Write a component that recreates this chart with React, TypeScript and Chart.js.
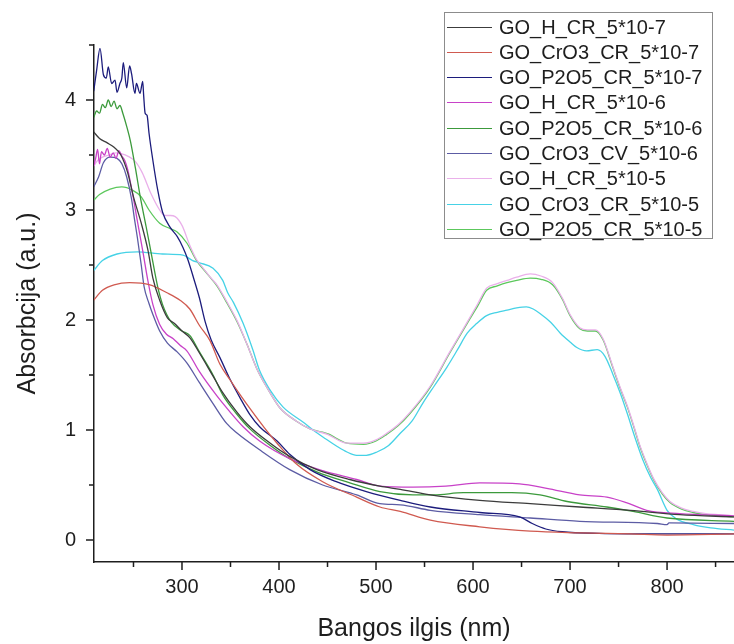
import React, { useEffect, useRef } from 'react';
import { Chart, registerables } from 'chart.js';

Chart.register(...registerables);

type Pt = [number, number];

// ---- series labels and colours ----
const seriesLabels = [
  'GO_H_CR_5*10-7',
  'GO_CrO3_CR_5*10-7',
  'GO_P2O5_CR_5*10-7',
  'GO_H_CR_5*10-6',
  'GO_P2O5_CR_5*10-6',
  'GO_CrO3_CV_5*10-6',
  'GO_H_CR_5*10-5',
  'GO_CrO3_CR_5*10-5',
  'GO_P2O5_CR_5*10-5',
];
const seriesColors = [
  '#3c3c3c',
  '#d05a50',
  '#1c1c7c',
  '#c842c8',
  '#3c9a3c',
  '#5c5ca4',
  '#eab0ea',
  '#46d2e6',
  '#5cc85c',
];

// ---- data: [wavelength nm, absorbance a.u.] ----
const goHCr7: Pt[] = [
  [209, 3.71], [215, 3.65], [223, 3.61], [230, 3.57], [237, 3.5], [244, 3.34], [250, 3.12],
  [258, 2.88], [265, 2.63], [270, 2.38], [277, 2.18], [285, 2.02], [292, 1.97], [300, 1.9],
  [308, 1.84], [318, 1.7], [332, 1.49], [342, 1.34], [356, 1.17], [370, 1.03], [391, 0.88],
  [411, 0.76], [439, 0.64], [473, 0.55], [504, 0.49], [525, 0.46], [556, 0.41], [607, 0.36],
  [659, 0.33], [710, 0.3], [762, 0.27], [813, 0.23], [869, 0.21],
];
const goCrO3Cr7: Pt[] = [
  [209, 2.18], [218, 2.27], [230, 2.32], [246, 2.34], [267, 2.32], [284, 2.25], [298, 2.18],
  [308, 2.1], [318, 1.95], [329, 1.81], [339, 1.6], [350, 1.45], [360, 1.32], [373, 1.16],
  [385, 1.02], [398, 0.88], [418, 0.69], [445, 0.53], [480, 0.39], [504, 0.3], [525, 0.26],
  [556, 0.18], [607, 0.12], [659, 0.08], [710, 0.065], [762, 0.055], [800, 0.045], [869, 0.055],
];
const goP2O5Cr7: Pt[] = [
  [209, 4.08], [212, 4.27], [215.5, 4.47], [219, 4.23], [222, 4.2], [224, 4.3], [227.5, 4.15],
  [231, 4.18], [233, 4.07], [236, 4.15], [238, 4.2], [239.5, 4.34], [243, 4.11], [246, 4.31],
  [248, 4.24], [251.5, 4.06], [253, 4.15], [256.7, 4.06], [259.5, 4.17], [260.5, 4.04],
  [262, 3.88], [264, 3.86], [266, 3.7], [270, 3.45], [275, 3.18], [280, 2.98], [288, 2.84],
  [295, 2.76], [301, 2.66], [306, 2.55], [312, 2.38], [318, 2.2], [324, 1.98], [330, 1.82],
  [339, 1.66], [349, 1.47], [360, 1.29], [370, 1.14], [380, 1.03], [398, 0.9], [411, 0.78],
  [432, 0.64], [459, 0.53], [490, 0.44], [525, 0.36], [556, 0.3], [607, 0.25], [648, 0.21],
  [661, 0.15], [675, 0.1], [692, 0.075], [730, 0.06], [800, 0.055], [869, 0.055],
];
const goHCr6: Pt[] = [
  [209, 3.4], [211, 3.47], [213, 3.55], [215, 3.42], [217, 3.53], [220, 3.5], [223, 3.56],
  [226, 3.48], [229, 3.52], [232, 3.47], [235, 3.54], [238, 3.49], [241, 3.45], [244, 3.37],
  [249, 3.15], [254, 2.9], [259.5, 2.63], [265, 2.35], [270, 2.14], [277, 1.96], [284, 1.87],
  [291, 1.83], [298, 1.77], [305, 1.72], [318, 1.53], [336, 1.31], [349, 1.17], [363, 1.03],
  [380, 0.9], [411, 0.74], [445, 0.63], [480, 0.55], [504, 0.49], [538, 0.48], [572, 0.49],
  [607, 0.52], [648, 0.51], [676, 0.47], [710, 0.41], [738, 0.39], [758, 0.34], [779, 0.27],
  [813, 0.24], [869, 0.22],
];
const goP2O5Cr6: Pt[] = [
  [209, 3.84], [212, 3.9], [215, 3.88], [218, 3.96], [221, 3.93], [224, 4.0], [227, 3.94],
  [230, 3.99], [233, 3.92], [236, 3.95], [239, 3.88], [243, 3.76], [247, 3.62], [252, 3.38],
  [257, 3.12], [263, 2.85], [268, 2.62], [275, 2.3], [280, 2.14], [289, 1.98], [300, 1.9],
  [308, 1.86], [318, 1.71], [332, 1.5], [342, 1.32], [356, 1.15], [370, 1.01], [391, 0.86],
  [411, 0.74], [439, 0.62], [473, 0.52], [504, 0.44], [538, 0.41], [560, 0.41], [590, 0.43],
  [640, 0.43], [669, 0.41], [697, 0.35], [738, 0.3], [765, 0.26], [800, 0.2], [869, 0.17],
];
const goCrO3Cv6: Pt[] = [
  [209, 3.21], [214, 3.3], [219, 3.43], [226, 3.48], [233, 3.47], [238, 3.42], [243, 3.3],
  [248, 3.1], [251, 2.92], [254, 2.75], [258, 2.5], [261, 2.3], [266, 2.15], [270, 2.05],
  [277, 1.9], [285, 1.79], [295, 1.71], [305, 1.61], [318, 1.43], [332, 1.24], [346, 1.06],
  [357, 0.97], [380, 0.82], [411, 0.64], [445, 0.5], [480, 0.41], [504, 0.33], [525, 0.32],
  [556, 0.27], [607, 0.23], [659, 0.2], [710, 0.17], [790, 0.15], [800, 0.14], [802, 0.155],
  [869, 0.15],
];
const goHCr5: Pt[] = [
  [209, 3.4], [213, 3.45], [218, 3.48], [225, 3.5], [232, 3.52], [238, 3.51], [244, 3.49],
  [252, 3.44], [259, 3.34], [268, 3.15], [277, 3.0], [282, 2.95], [288, 2.95], [293, 2.94],
  [300, 2.86], [308, 2.68], [315, 2.55], [322, 2.47], [330, 2.38], [336, 2.32], [346, 2.17],
  [357, 1.99], [367, 1.78], [377, 1.56], [388, 1.38], [401, 1.2], [418, 1.08], [432, 1.01],
  [450, 0.96], [470, 0.88], [487, 0.88], [500, 0.91], [511, 0.97], [523, 1.05], [535, 1.16],
  [556, 1.4], [576, 1.71], [594, 1.98], [605, 2.15], [614, 2.29], [625, 2.33], [635, 2.36],
  [645, 2.39], [659, 2.42], [670, 2.4], [682, 2.34], [692, 2.2], [700, 2.05], [710, 1.93],
  [718, 1.91], [726, 1.91], [734, 1.83], [744, 1.58], [752, 1.38], [759, 1.22], [766, 1.03],
  [772, 0.86], [779, 0.7], [786, 0.56], [795, 0.43], [803, 0.35], [815, 0.29], [827, 0.26],
  [840, 0.24], [855, 0.23], [869, 0.22],
];
const goCrO3Cr5: Pt[] = [
  [209, 2.45], [218, 2.54], [233, 2.6], [254, 2.62], [280, 2.6], [301, 2.59], [311, 2.54],
  [318, 2.52], [332, 2.47], [342, 2.36], [347, 2.25], [353, 2.16], [363, 1.97], [373, 1.73],
  [380, 1.54], [391, 1.36], [404, 1.21], [425, 1.07], [435, 1.0], [448, 0.92], [460, 0.85],
  [470, 0.8], [480, 0.77], [490, 0.77], [501, 0.8], [513, 0.86], [525, 0.97], [537, 1.08],
  [548, 1.24], [560, 1.4], [573, 1.57], [584, 1.73], [594, 1.88], [604, 1.97], [614, 2.04],
  [625, 2.07], [635, 2.09], [645, 2.11], [655, 2.12], [662, 2.1], [669, 2.06], [680, 1.98],
  [690, 1.88], [700, 1.8], [707, 1.75], [717, 1.72], [728, 1.73], [736, 1.67], [744, 1.51],
  [752, 1.33], [759, 1.15], [767, 0.93], [775, 0.73], [783, 0.57], [790, 0.46], [800, 0.27],
  [810, 0.19], [827, 0.14], [845, 0.11], [869, 0.09],
];
const goP2O5Cr5: Pt[] = [
  [209, 3.09], [215, 3.14], [226, 3.19], [238, 3.21], [249, 3.18], [258, 3.12], [266, 3.0],
  [277, 2.88], [288, 2.83], [295, 2.8], [305, 2.7], [315, 2.54], [326, 2.42], [336, 2.31],
  [346, 2.16], [357, 1.98], [367, 1.78], [377, 1.56], [388, 1.38], [401, 1.2], [418, 1.08],
  [432, 1.01], [445, 0.98], [452, 0.96], [460, 0.92], [470, 0.88], [487, 0.87], [500, 0.9],
  [511, 0.96], [523, 1.04], [535, 1.15], [556, 1.39], [576, 1.7], [594, 1.97], [605, 2.13],
  [614, 2.27], [625, 2.31], [635, 2.34], [645, 2.36], [659, 2.38], [670, 2.37], [682, 2.32],
  [692, 2.19], [700, 2.04], [710, 1.92], [718, 1.9], [726, 1.9], [734, 1.82], [744, 1.57],
  [752, 1.37], [759, 1.21], [766, 1.02], [772, 0.85], [779, 0.69], [786, 0.55], [795, 0.42],
  [803, 0.34], [815, 0.28], [827, 0.25], [840, 0.23], [855, 0.22], [869, 0.21],
];

const seriesData: Pt[][] = [
  goHCr7, goCrO3Cr7, goP2O5Cr7, goHCr6, goP2O5Cr6, goCrO3Cv6, goHCr5, goCrO3Cr5, goP2O5Cr5,
];

// ---- axes ----
const xTickValues = [250, 300, 350, 400, 450, 500, 550, 600, 650, 700, 750, 800, 850];
const xLabelValues = [300, 400, 500, 600, 700, 800];
const yTickValues = [0, 0.5, 1, 1.5, 2, 2.5, 3, 3.5, 4, 4.5];
const yLabelValues = [0, 1, 2, 3, 4];
const X_MIN = 209.3;
const X_MAX = 869;
const Y_MIN = -0.2;
const Y_MAX = 4.5;
const xTitle = 'Bangos ilgis (nm)';
const yTitle = 'Absorbcija (a.u.)';

const FONT = '"Liberation Sans", Arial, sans-serif';
const INK = '#1e1e1e';

const tickMarks = {
  id: 'tickMarks',
  afterDraw(chart: any) {
    const { ctx, chartArea, scales } = chart;
    const xs = scales.x;
    const ys = scales.y;
    ctx.save();
    ctx.strokeStyle = INK;
    ctx.lineWidth = 1.5;
    ctx.beginPath();
    xTickValues.forEach((v) => {
      const px = xs.getPixelForValue(v);
      const len = xLabelValues.includes(v) ? 8 : 5;
      ctx.moveTo(px, chartArea.bottom);
      ctx.lineTo(px, chartArea.bottom + len);
    });
    yTickValues.forEach((v) => {
      const py = ys.getPixelForValue(v);
      const len = yLabelValues.includes(v) ? 8 : 5;
      ctx.moveTo(chartArea.left, py);
      ctx.lineTo(chartArea.left - len, py);
    });
    ctx.stroke();
    ctx.restore();
  },
};

export default function App() {
  const canvasRef = useRef<HTMLCanvasElement | null>(null);

  useEffect(() => {
    if (!canvasRef.current) return;
    Chart.defaults.font.family = FONT;
    Chart.defaults.color = INK;
    const chart = new Chart(canvasRef.current, {
      type: 'line',
      data: {
        datasets: seriesLabels.map((label, i) => ({
          label,
          data: seriesData[i].map(([x, y]) => ({ x, y })),
          borderColor: seriesColors[i],
          backgroundColor: seriesColors[i],
          borderWidth: 1.3,
          pointRadius: 0,
          fill: false,
          cubicInterpolationMode: 'monotone' as const,
        })),
      },
      options: {
        animation: false,
        responsive: false,
        events: [],
        layout: { padding: { top: 45, right: 0, bottom: 0, left: 0 } },
        plugins: {
          legend: { display: false },
          tooltip: { enabled: false },
        },
        scales: {
          x: {
            type: 'linear',
            min: X_MIN,
            max: X_MAX,
            afterBuildTicks: (s: any) => {
              s.ticks = xTickValues.map((value) => ({ value }));
            },
            afterFit: (s: any) => {
              s.height = 82;
            },
            grid: { display: false, drawTicks: false, tickLength: 0 },
            border: { display: true, color: INK, width: 1.5 },
            ticks: {
              autoSkip: false,
              maxRotation: 0,
              padding: 13,
              color: INK,
              font: { size: 20, family: FONT },
              callback: (v: any) => (xLabelValues.includes(Number(v)) ? String(v) : ''),
            },
            title: {
              display: true,
              text: xTitle,
              color: INK,
              font: { size: 25, family: FONT },
              padding: { top: 0, bottom: 0 },
            },
          },
          y: {
            type: 'linear',
            min: Y_MIN,
            max: Y_MAX,
            afterBuildTicks: (s: any) => {
              s.ticks = yTickValues.map((value) => ({ value }));
            },
            afterFit: (s: any) => {
              s.width = 94;
            },
            grid: { display: false, drawTicks: false, tickLength: 0 },
            border: { display: true, color: INK, width: 1.5 },
            ticks: {
              autoSkip: false,
              padding: 18,
              color: INK,
              font: { size: 20, family: FONT },
              callback: (v: any) => (yLabelValues.includes(Number(v)) ? String(v) : ''),
            },
            title: {
              display: true,
              text: yTitle,
              color: INK,
              font: { size: 25, family: FONT },
              padding: { top: 13, bottom: 0 },
            },
          },
        },
      },
      plugins: [tickMarks],
    });
    return () => chart.destroy();
  }, []);

  return (
    <div style={{ position: 'absolute', left: 0, top: 0, width: 734, height: 644, background: '#ffffff' }}>
      <canvas ref={canvasRef} width={734} height={644} style={{ display: 'block', width: 734, height: 644 }} />
      <div
        style={{
          position: 'absolute',
          left: 444,
          top: 12,
          width: 269,
          height: 227,
          border: '1px solid #8c8c8c',
          boxSizing: 'border-box',
          background: '#ffffff',
          fontFamily: FONT,
          fontSize: 20,
          color: INK,
        }}
      >
        {seriesLabels.map((label, i) => (
          <div
            key={label}
            style={{
              position: 'absolute',
              left: 2,
              top: 1.5 + i * 25.3,
              height: 25,
              display: 'flex',
              alignItems: 'center',
              whiteSpace: 'nowrap',
            }}
          >
            <span style={{ display: 'inline-block', width: 45, height: 0, borderTop: `1.5px solid ${seriesColors[i]}` }} />
            <span style={{ marginLeft: 7, lineHeight: '25px' }}>{label}</span>
          </div>
        ))}
      </div>
    </div>
  );
}
